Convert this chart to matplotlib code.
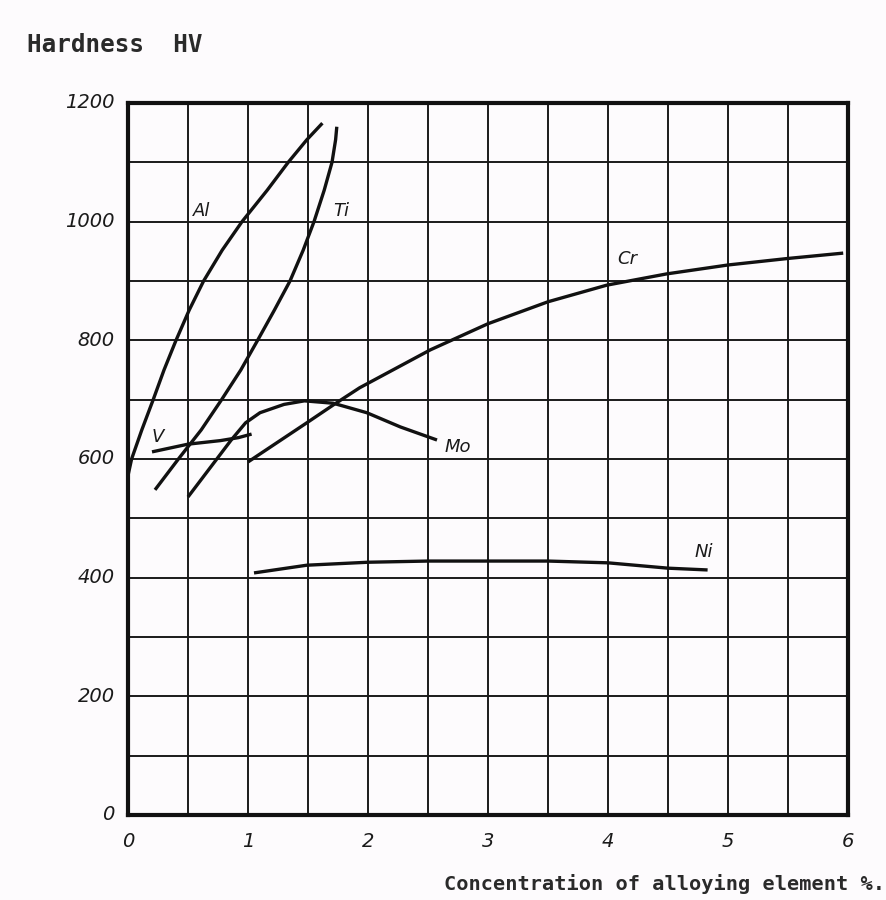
import matplotlib
matplotlib.use("Agg")
import matplotlib.pyplot as plt
import numpy as np

# --- data ---
al_x = [0.0, 0.03, 0.115, 0.21, 0.30, 0.40, 0.51, 0.63, 0.785, 0.95, 1.16, 1.335, 1.49, 1.62]
al_y = [572, 600, 649, 700, 750, 800, 851, 900, 952, 1000, 1053, 1100, 1138, 1166]

ti_x = [0.225, 0.42, 0.61, 0.78, 0.94, 1.08, 1.22, 1.35, 1.46, 1.55, 1.635, 1.70, 1.73, 1.74]
ti_y = [548, 600, 649, 700, 750, 800, 851, 900, 952, 1000, 1053, 1100, 1138, 1160]

mo_x = [0.50, 0.74, 0.86, 0.98, 1.10, 1.30, 1.47, 1.71, 1.99, 2.27, 2.575]
mo_y = [536, 600, 632, 661, 678, 692, 698, 694, 678, 654, 632]

v_x = [0.20, 0.50, 0.77, 0.92, 1.03]
v_y = [612, 625, 631, 636, 642]

cr_x = [1.0, 1.49, 1.71, 1.93, 2.52, 3.0, 3.5, 3.99, 4.49, 5.0, 5.5, 5.96]
cr_y = [595, 661, 691, 720, 784, 828, 865, 893, 912, 927, 938, 947]

ni_x = [1.05, 1.49, 2.0, 2.5, 3.0, 3.5, 4.0, 4.5, 4.83]
ni_y = [408, 421, 426, 428, 428, 428, 425, 416, 413]

curve_names = ["Al", "Ti", "Cr", "Mo", "V", "Ni"]
label_x = [0.61, 1.78, 4.16, 2.75, 0.25, 4.80]
label_y = [1018, 1018, 937, 620, 637, 443]

x_ticks = [0, 1, 2, 3, 4, 5, 6]
y_ticks = [0, 200, 400, 600, 800, 1000, 1200]

x_label = "Concentration of alloying element %."
y_label = "Hardness  HV"

# --- drawing ---
bg = "#fdfbfd"
fig = plt.figure(figsize=(8.87, 9.0), dpi=100, facecolor=bg)
ax = fig.add_axes([128 / 887, (900 - 815) / 900, 720 / 887, 712 / 900])
ax.set_facecolor(bg)

ax.set_xlim(0, 6)
ax.set_ylim(0, 1200)

ax.set_xticks(np.arange(0, 6.01, 0.5))
ax.set_yticks(np.arange(0, 1201, 100))
ax.grid(True, color="#1a1a1a", linewidth=1.4)
ax.set_axisbelow(True)
ax.tick_params(length=0, labelbottom=False, labelleft=False)

for s in ax.spines.values():
    s.set_linewidth(3.0)
    s.set_color("#111111")

tick_font = dict(fontsize=14, style="italic", color="#1a1a1a", family="DejaVu Sans")
for t in x_ticks:
    ax.text(t, -45, str(t), ha="center", va="center", **tick_font)
for t in y_ticks:
    ax.text(-0.11, t, str(t), ha="right", va="center", **tick_font)

lw = 2.4
for xs, ys in [(al_x, al_y), (ti_x, ti_y), (mo_x, mo_y), (v_x, v_y), (cr_x, cr_y), (ni_x, ni_y)]:
    ax.plot(xs, ys, color="#111111", linewidth=lw, solid_capstyle="butt",
            solid_joinstyle="round", zorder=3)

for name, lx, ly in zip(curve_names, label_x, label_y):
    ax.text(lx, ly, name, ha="center", va="center", fontsize=13,
            style="italic", color="#1a1a1a", zorder=4)

fig.text(27 / 887, 1 - 45 / 900, y_label, ha="left", va="center",
         fontsize=17.5, family="DejaVu Sans Mono", weight="bold", color="#2a2a2a")
fig.text(885 / 887, 1 - 884 / 900, x_label, ha="right", va="center",
         fontsize=14.6, family="DejaVu Sans Mono", weight="bold", color="#2a2a2a")

fig.savefig("out.png", dpi=100, facecolor=bg)
